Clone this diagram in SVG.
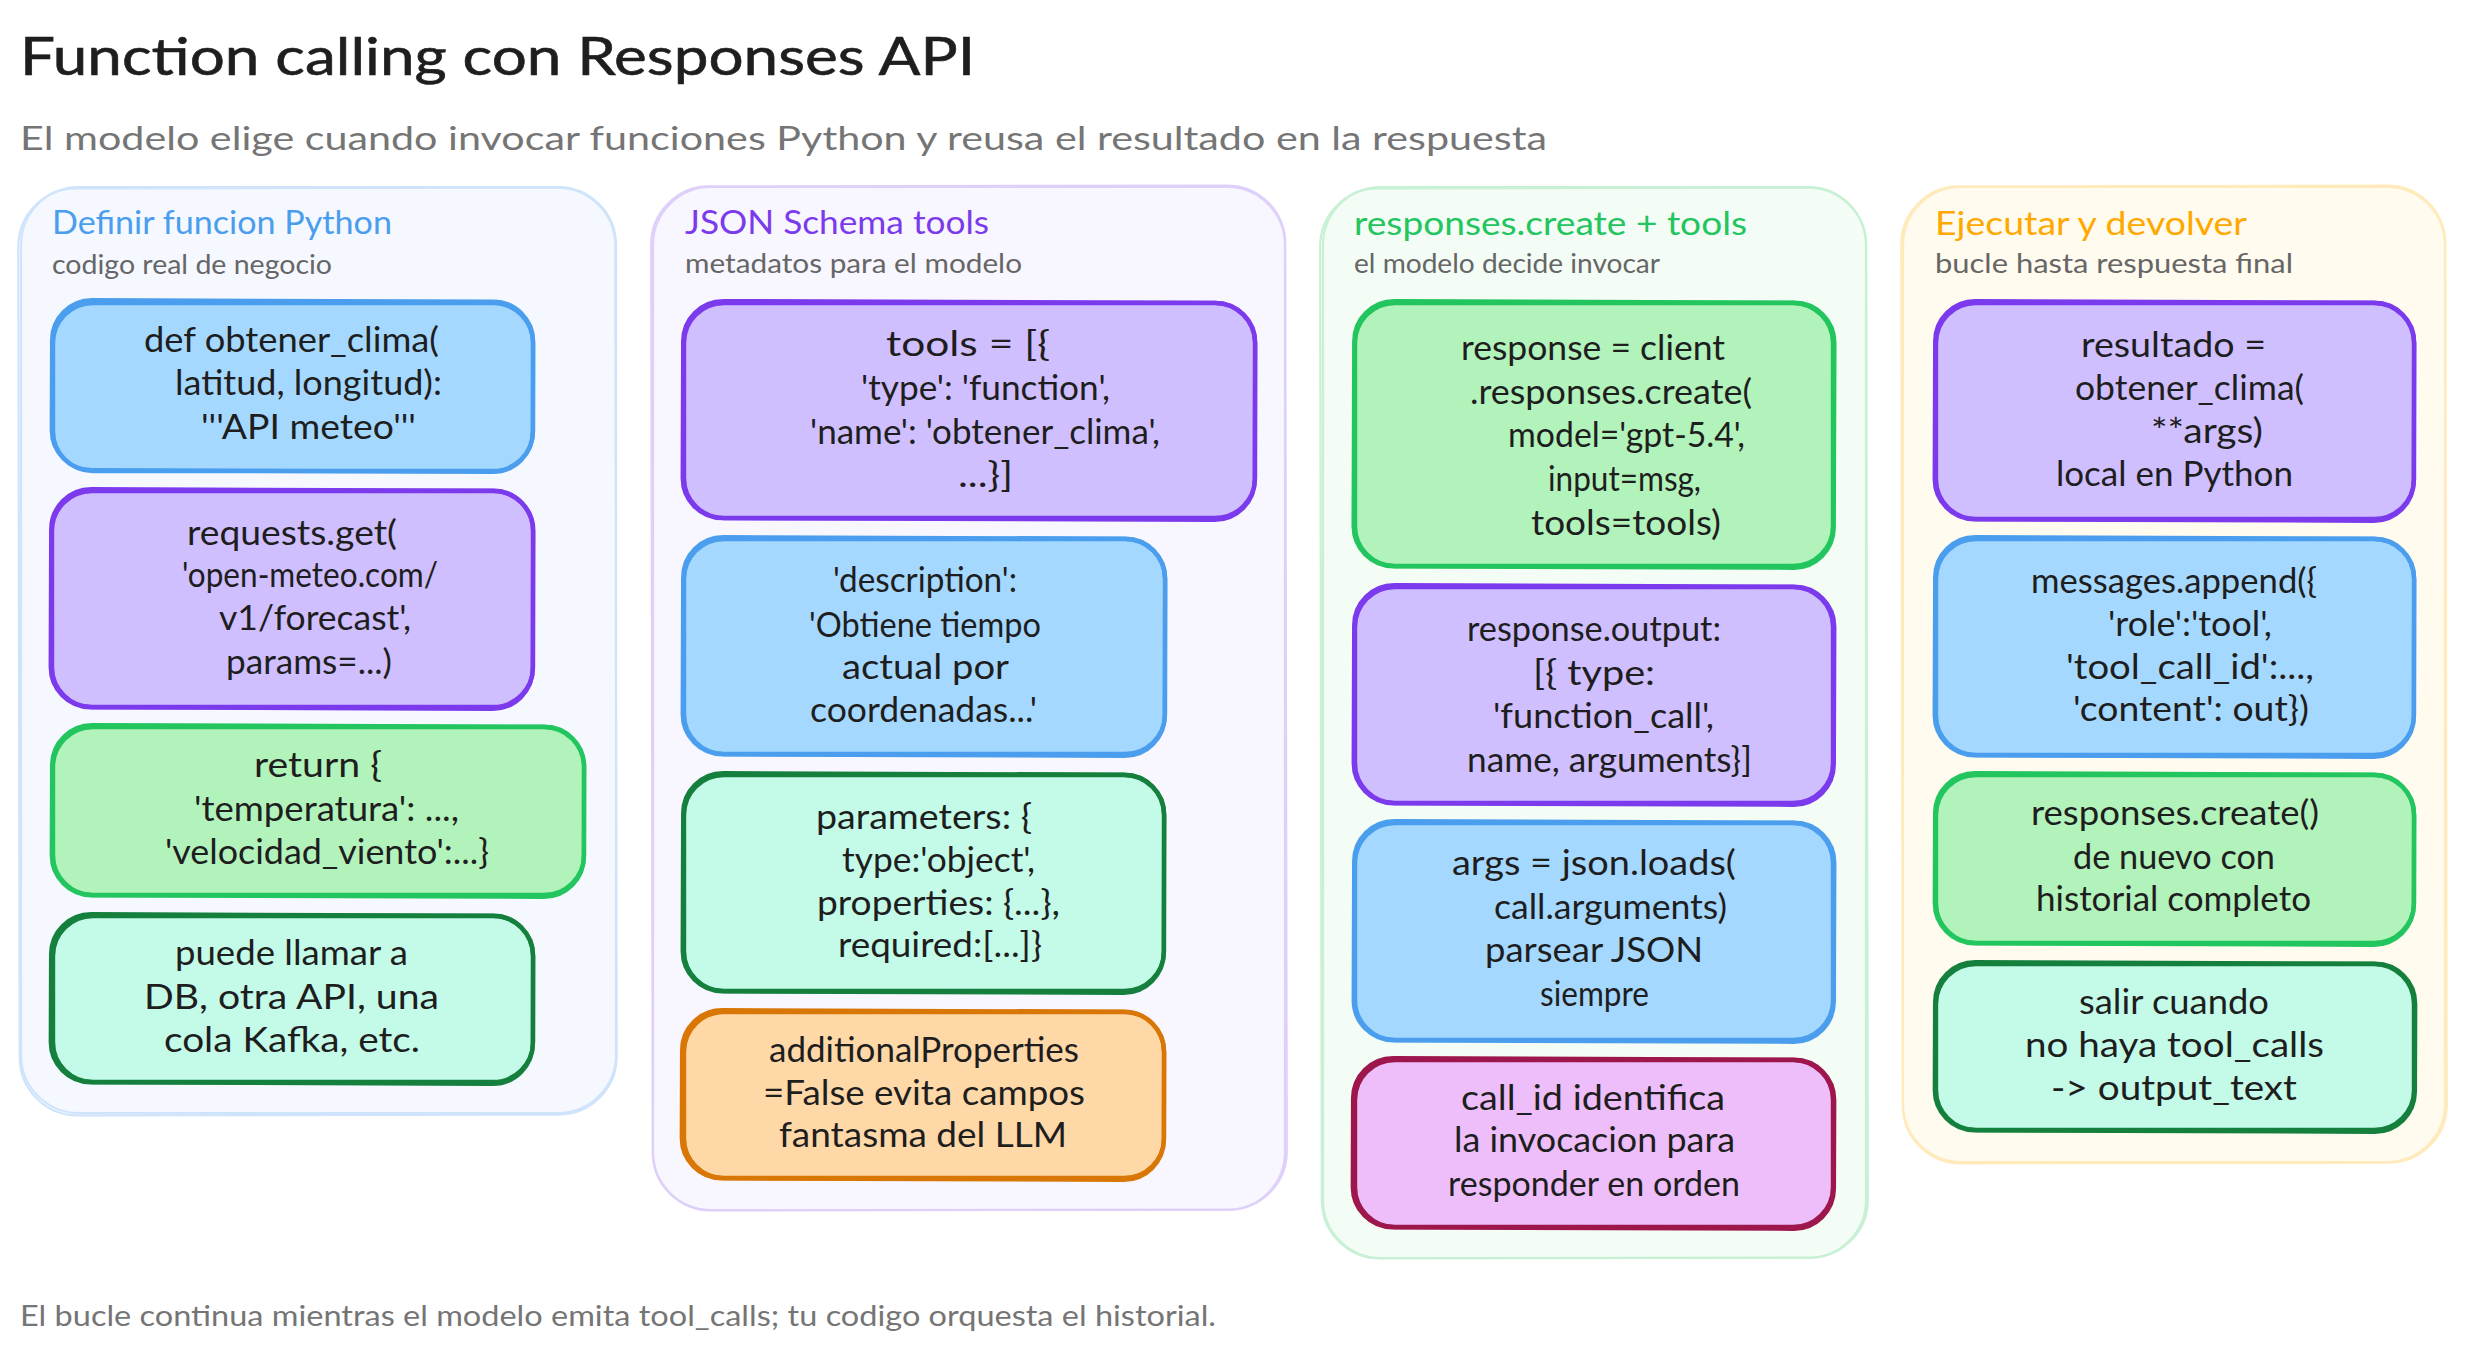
<svg xmlns="http://www.w3.org/2000/svg" width="2466" height="1355" viewBox="0 0 2466 1355">
<style>
text{font-family:"Lato","Noto Sans",sans-serif;fill:#1e1e1e;transform:translateY(2px)}
.t{font-size:34px}
.title{font-size:53px;stroke:#1e1e1e;stroke-width:.6px}
.subtitle{font-size:33px;fill:#757575}
.foot{font-size:28px;fill:#757575}
.h{font-size:33px}
.d{font-size:26px;fill:#666}
rect{stroke-linejoin:round}
.n rect{rx:40px;ry:40px;stroke-width:4.4px;transform:translateY(1px)}
.p rect{rx:58px;ry:58px;stroke-width:2.2px}
.n rect.s{fill:none;transform-box:fill-box;transform-origin:center;transform:translateY(1px) rotate(.2deg)}
.p rect.s{fill:none;transform-box:fill-box;transform-origin:center;transform:rotate(-.1deg)}
.blue rect{stroke:#4a9eed}.blue .f{fill:#a5d8ff}
.purple rect{stroke:#7c3aed}.purple .f{fill:#d0bfff}
.green rect{stroke:#22c55e}.green .f{fill:#b2f2bb}
.mint rect{stroke:#15803d}.mint .f{fill:#c3fae8}
.orange rect{stroke:#d97706}.orange .f{fill:#ffd8a8}
.pink rect{stroke:#9d174d}.pink .f{fill:#eebefa}
.p1 rect{stroke:#cfe4fb}.p1 .f{fill:#f5f8ff}
.p2 rect{stroke:#dfd0fa}.p2 .f{fill:#f8f6ff}
.p3 rect{stroke:#c8f0d4}.p3 .f{fill:#f3fcf5}
.p4 rect{stroke:#ffeabc}.p4 .f{fill:#fffbef}
</style>
<g id="header">
<text class="title" x="20" y="73" textLength="955" lengthAdjust="spacingAndGlyphs">Function calling con Responses API</text>
<text class="subtitle" x="20" y="148" textLength="1527" lengthAdjust="spacingAndGlyphs">El modelo elige cuando invocar funciones Python y reusa el resultado en la respuesta</text>
</g>
<g id="panel-1" class="p p1">
<rect class="f" x="21" y="187" width="595" height="926"/><rect class="s" x="19" y="188" width="597" height="927"/>
<text class="h" style="fill:#4a9eed" x="52" y="232" textLength="340" lengthAdjust="spacingAndGlyphs">Definir funcion Python</text>
<text class="d" x="52" y="272" textLength="280" lengthAdjust="spacingAndGlyphs">codigo real de negocio</text>
</g>
<g id="panel-2" class="p p2">
<rect class="f" x="653" y="187" width="632" height="1023"/><rect class="s" x="652" y="186" width="634" height="1024"/>
<text class="h" style="fill:#7c3aed" x="685" y="232" textLength="304" lengthAdjust="spacingAndGlyphs">JSON Schema tools</text>
<text class="d" x="685" y="271" textLength="337" lengthAdjust="spacingAndGlyphs">metadatos para el modelo</text>
</g>
<g id="panel-3" class="p p3">
<rect class="f" x="1323" y="187" width="543" height="1071"/><rect class="s" x="1321" y="188" width="546" height="1070"/>
<text class="h" style="fill:#22c55e" x="1354" y="233" textLength="393" lengthAdjust="spacingAndGlyphs">responses.create + tools</text>
<text class="d" x="1354" y="271" textLength="306" lengthAdjust="spacingAndGlyphs">el modelo decide invocar</text>
</g>
<g id="panel-4" class="p p4">
<rect class="f" x="1903" y="187" width="542" height="975"/><rect class="s" x="1902" y="186" width="544" height="977"/>
<text class="h" style="fill:#ffa800" x="1935" y="233" textLength="312" lengthAdjust="spacingAndGlyphs">Ejecutar y devolver</text>
<text class="d" x="1935" y="271" textLength="358" lengthAdjust="spacingAndGlyphs">bucle hasta respuesta final</text>
</g>

<g id="n1-def" class="n blue">
<rect class="f" x="53" y="302" width="480" height="168"/><rect class="s" x="52" y="300" width="481" height="170"/>
<text class="t" x="144" y="350" textLength="295" lengthAdjust="spacingAndGlyphs">def obtener_clima(</text>
<text class="t" x="175" y="393" textLength="267" lengthAdjust="spacingAndGlyphs">latitud, longitud):</text>
<text class="t" x="201" y="437" textLength="215" lengthAdjust="spacingAndGlyphs">'''API meteo'''</text>
</g>
<g id="n1-requests" class="n purple">
<rect class="f" x="52" y="490" width="481" height="216"/><rect class="s" x="51" y="489" width="482" height="218"/>
<text class="t" x="187" y="543" textLength="210" lengthAdjust="spacingAndGlyphs">requests.get(</text>
<text class="t" x="182" y="585" textLength="256" lengthAdjust="spacingAndGlyphs">'open-meteo.com/</text>
<text class="t" x="219" y="628" textLength="192" lengthAdjust="spacingAndGlyphs">v1/forecast',</text>
<text class="t" x="226" y="672" textLength="166" lengthAdjust="spacingAndGlyphs">params=...)</text>
</g>
<g id="n1-return" class="n green">
<rect class="f" x="53" y="726" width="531" height="168"/><rect class="s" x="52" y="725" width="532" height="170"/>
<text class="t" x="254" y="775" textLength="128" lengthAdjust="spacingAndGlyphs">return {</text>
<text class="t" x="194" y="819" textLength="265" lengthAdjust="spacingAndGlyphs">'temperatura': ...,</text>
<text class="t" x="165" y="862" textLength="324" lengthAdjust="spacingAndGlyphs">'velocidad_viento':...}</text>
</g>
<g id="n1-puede" class="n mint">
<rect class="f" x="53" y="915" width="480" height="166"/><rect class="s" x="51" y="914" width="482" height="168"/>
<text class="t" x="175" y="963" textLength="233" lengthAdjust="spacingAndGlyphs">puede llamar a</text>
<text class="t" x="144" y="1007" textLength="295" lengthAdjust="spacingAndGlyphs">DB, otra API, una</text>
<text class="t" x="164" y="1050" textLength="256" lengthAdjust="spacingAndGlyphs">cola Kafka, etc.</text>
</g>

<g id="n2-tools" class="n purple">
<rect class="f" x="684" y="302" width="571" height="215"/><rect class="s" x="683" y="301" width="572" height="217"/>
<text class="t" x="886" y="354" textLength="164" lengthAdjust="spacingAndGlyphs">tools = [{</text>
<text class="t" x="861" y="398" textLength="249" lengthAdjust="spacingAndGlyphs">'type': 'function',</text>
<text class="t" x="810" y="442" textLength="350" lengthAdjust="spacingAndGlyphs">'name': 'obtener_clima',</text>
<text class="t" x="958" y="485" textLength="55" lengthAdjust="spacingAndGlyphs">...}]</text>
</g>
<g id="n2-description" class="n blue">
<rect class="f" x="684" y="538" width="481" height="215"/><rect class="s" x="683" y="537" width="482" height="217"/>
<text class="t" x="833" y="590" textLength="184" lengthAdjust="spacingAndGlyphs">'description':</text>
<text class="t" x="809" y="635" textLength="232" lengthAdjust="spacingAndGlyphs">'Obtiene tiempo</text>
<text class="t" x="842" y="677" textLength="167" lengthAdjust="spacingAndGlyphs">actual por</text>
<text class="t" x="810" y="720" textLength="227" lengthAdjust="spacingAndGlyphs">coordenadas...'</text>
</g>
<g id="n2-parameters" class="n mint">
<rect class="f" x="684" y="774" width="480" height="216"/><rect class="s" x="683" y="773" width="481" height="218"/>
<text class="t" x="816" y="827" textLength="216" lengthAdjust="spacingAndGlyphs">parameters: {</text>
<text class="t" x="842" y="870" textLength="193" lengthAdjust="spacingAndGlyphs">type:'object',</text>
<text class="t" x="817" y="913" textLength="243" lengthAdjust="spacingAndGlyphs">properties: {...},</text>
<text class="t" x="838" y="955" textLength="204" lengthAdjust="spacingAndGlyphs">required:[...]}</text>
</g>
<g id="n2-additional" class="n orange">
<rect class="f" x="684" y="1011" width="480" height="166"/><rect class="s" x="682" y="1010" width="482" height="168"/>
<text class="t" x="769" y="1060" textLength="310" lengthAdjust="spacingAndGlyphs">additionalProperties</text>
<text class="t" x="763" y="1103" textLength="322" lengthAdjust="spacingAndGlyphs">=False evita campos</text>
<text class="t" x="779" y="1145" textLength="288" lengthAdjust="spacingAndGlyphs">fantasma del LLM</text>
</g>

<g id="n3-response" class="n green">
<rect class="f" x="1355" y="302" width="478" height="263"/><rect class="s" x="1354" y="301" width="480" height="265"/>
<text class="t" x="1461" y="358" textLength="264" lengthAdjust="spacingAndGlyphs">response = client</text>
<text class="t" x="1470" y="402" textLength="282" lengthAdjust="spacingAndGlyphs">.responses.create(</text>
<text class="t" x="1508" y="445" textLength="237" lengthAdjust="spacingAndGlyphs">model='gpt-5.4',</text>
<text class="t" x="1548" y="489" textLength="153" lengthAdjust="spacingAndGlyphs">input=msg,</text>
<text class="t" x="1531" y="533" textLength="190" lengthAdjust="spacingAndGlyphs">tools=tools)</text>
</g>
<g id="n3-output" class="n purple">
<rect class="f" x="1355" y="586" width="478" height="216"/><rect class="s" x="1354" y="585" width="480" height="218"/>
<text class="t" x="1467" y="639" textLength="254" lengthAdjust="spacingAndGlyphs">response.output:</text>
<text class="t" x="1533" y="683" textLength="122" lengthAdjust="spacingAndGlyphs">[{ type:</text>
<text class="t" x="1493" y="726" textLength="221" lengthAdjust="spacingAndGlyphs">'function_call',</text>
<text class="t" x="1467" y="770" textLength="285" lengthAdjust="spacingAndGlyphs">name, arguments}]</text>
</g>
<g id="n3-args" class="n blue">
<rect class="f" x="1355" y="822" width="478" height="217"/><rect class="s" x="1354" y="821" width="480" height="219"/>
<text class="t" x="1452" y="873" textLength="284" lengthAdjust="spacingAndGlyphs">args = json.loads(</text>
<text class="t" x="1494" y="917" textLength="233" lengthAdjust="spacingAndGlyphs">call.arguments)</text>
<text class="t" x="1485" y="960" textLength="218" lengthAdjust="spacingAndGlyphs">parsear JSON</text>
<text class="t" x="1540" y="1004" textLength="109" lengthAdjust="spacingAndGlyphs">siempre</text>
</g>
<g id="n3-callid" class="n pink">
<rect class="f" x="1355" y="1059" width="478" height="167"/><rect class="s" x="1353" y="1058" width="481" height="169"/>
<text class="t" x="1461" y="1108" textLength="264" lengthAdjust="spacingAndGlyphs">call_id identifica</text>
<text class="t" x="1454" y="1150" textLength="281" lengthAdjust="spacingAndGlyphs">la invocacion para</text>
<text class="t" x="1448" y="1194" textLength="292" lengthAdjust="spacingAndGlyphs">responder en orden</text>
</g>

<g id="n4-resultado" class="n purple">
<rect class="f" x="1936" y="302" width="478" height="216"/><rect class="s" x="1935" y="301" width="479" height="218"/>
<text class="t" x="2081" y="355" textLength="185" lengthAdjust="spacingAndGlyphs">resultado =</text>
<text class="t" x="2075" y="398" textLength="229" lengthAdjust="spacingAndGlyphs">obtener_clima(</text>
<text class="t" x="2151" y="441" textLength="112" lengthAdjust="spacingAndGlyphs">**args)</text>
<text class="t" x="2056" y="484" textLength="237" lengthAdjust="spacingAndGlyphs">local en Python</text>
</g>
<g id="n4-messages" class="n blue">
<rect class="f" x="1936" y="538" width="478" height="216"/><rect class="s" x="1935" y="537" width="479" height="218"/>
<text class="t" x="2031" y="591" textLength="286" lengthAdjust="spacingAndGlyphs">messages.append({</text>
<text class="t" x="2108" y="634" textLength="164" lengthAdjust="spacingAndGlyphs">'role':'tool',</text>
<text class="t" x="2066" y="677" textLength="248" lengthAdjust="spacingAndGlyphs">'tool_call_id':...,</text>
<text class="t" x="2073" y="719" textLength="236" lengthAdjust="spacingAndGlyphs">'content': out})</text>
</g>
<g id="n4-create" class="n green">
<rect class="f" x="1936" y="774" width="478" height="168"/><rect class="s" x="1935" y="773" width="479" height="170"/>
<text class="t" x="2031" y="823" textLength="288" lengthAdjust="spacingAndGlyphs">responses.create()</text>
<text class="t" x="2073" y="867" textLength="202" lengthAdjust="spacingAndGlyphs">de nuevo con</text>
<text class="t" x="2036" y="909" textLength="275" lengthAdjust="spacingAndGlyphs">historial completo</text>
</g>
<g id="n4-salir" class="n mint">
<rect class="f" x="1936" y="963" width="478" height="166"/><rect class="s" x="1935" y="962" width="480" height="168"/>
<text class="t" x="2079" y="1012" textLength="190" lengthAdjust="spacingAndGlyphs">salir cuando</text>
<text class="t" x="2025" y="1055" textLength="299" lengthAdjust="spacingAndGlyphs">no haya tool_calls</text>
<text class="t" x="2051" y="1098" textLength="246" lengthAdjust="spacingAndGlyphs">-&gt; output_text</text>
</g>
<g id="footer">
<text class="foot" x="20" y="1324" textLength="1196" lengthAdjust="spacingAndGlyphs">El bucle continua mientras el modelo emita tool_calls; tu codigo orquesta el historial.</text>
</g>
</svg>
